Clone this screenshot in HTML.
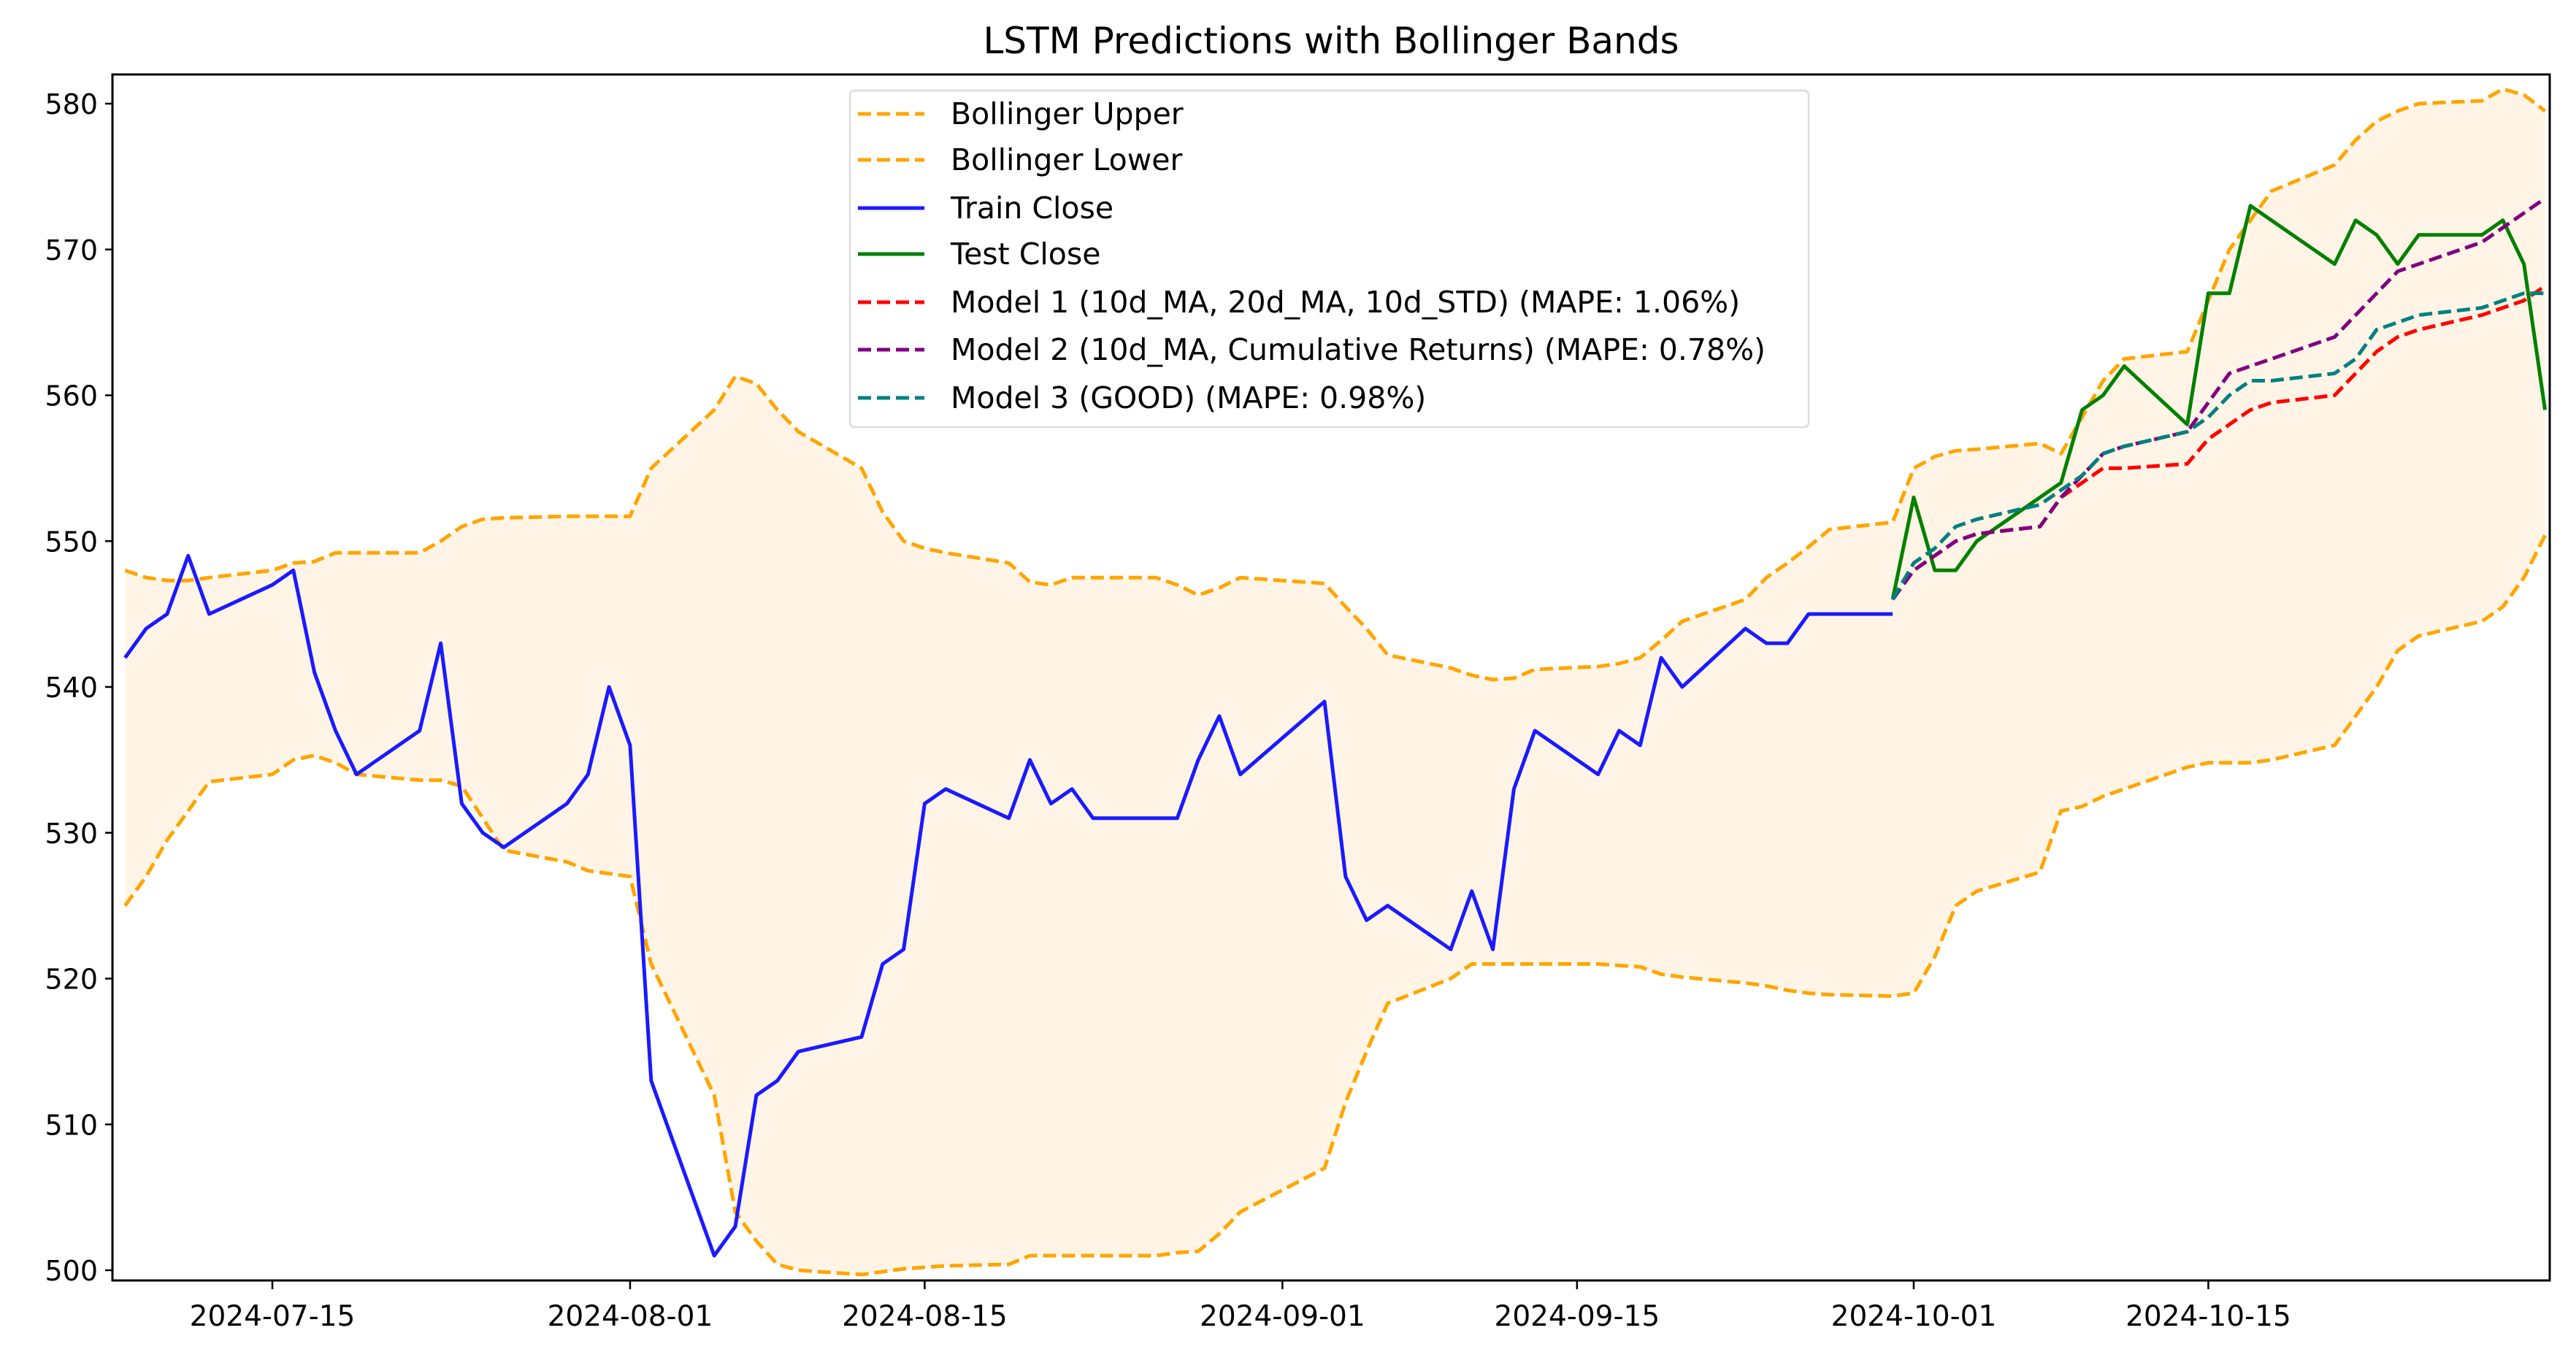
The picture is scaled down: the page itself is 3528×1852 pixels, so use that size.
<!DOCTYPE html>
<html><head><meta charset="utf-8"><style>
html,body{margin:0;padding:0;background:#fff;}
svg{display:block;font-family:"DejaVu Sans","Liberation Sans",sans-serif;}
</style></head><body>
<svg id="chart" width="3528" height="1852" viewBox="0 0 3528 1852" xmlns="http://www.w3.org/2000/svg">
<text x="1823" y="73" font-size="50" text-anchor="middle" fill="#000">LSTM Predictions with Bollinger Bands</text>
<g id="plot"></g>
</svg>
<script>
const trainDates=["07-08","07-09","07-10","07-11","07-12","07-15","07-16","07-17","07-18","07-19","07-22","07-23","07-24","07-25","07-26","07-29","07-30","07-31","08-01","08-02","08-05","08-06","08-07","08-08","08-09","08-12","08-13","08-14","08-15","08-16","08-19","08-20","08-21","08-22","08-23","08-26","08-27","08-28","08-29","08-30","09-03","09-04","09-05","09-06","09-09","09-10","09-11","09-12","09-13","09-16","09-17","09-18","09-19","09-20","09-23","09-24","09-25","09-26","09-27","09-30"];
const testDates=["09-30","10-01","10-02","10-03","10-04","10-07","10-08","10-09","10-10","10-11","10-14","10-15","10-16","10-17","10-18","10-21","10-22","10-23","10-24","10-25","10-28","10-29","10-30","10-31"];
const trainClose=[542,544,545,549,545,547,548,541,537,534,537,543,532,530,529,532,534,540,536,513,501,503,512,513,515,516,521,522,532,533,531,535,532,533,531,531,531,535,538,534,539,527,524,525,522,526,522,533,537,534,537,536,542,540,544,543,543,545,545,545];
const testClose=[546,553,548,548,550,553,554,559,560,562,558,567,567,573,572,569,572,571,569,571,571,572,569,559];
const model1=[546,548,549,550,550.5,551,553,554,555,555,555.3,557,558,559,559.5,560,561.5,563,564,564.5,565.5,566,566.5,567.5];
const model2=[546,548,549,550,550.5,551,553,554.5,556,556.5,557.5,559.5,561.5,562,562.5,564,565.5,567,568.5,569,570.5,571.5,572.5,573.5];
const model3=[546,548.5,549.5,551,551.5,552.5,553.5,554.5,556,556.5,557.5,558.5,560,561,561,561.5,562.5,564.5,565,565.5,566,566.5,567,567];
const bandUpper=[548,547.5,547.3,547.3,547.5,548,548.5,548.6,549.2,549.2,549.2,550,551,551.5,551.6,551.7,551.7,551.7,551.7,555,559,561.3,560.8,559,557.5,555,552,550,549.5,549.2,548.5,547.2,547,547.5,547.5,547.5,547,546.3,546.8,547.5,547.1,545.5,544,542.2,541.3,540.8,540.5,540.6,541.2,541.4,541.6,542,543.2,544.5,546,547.5,548.5,549.6,550.8,551.3,
555,555.8,556.2,556.3,556.7,556,558.5,561,562.5,563,566.5,570,572,574,575.8,577.5,578.8,579.5,580,580.2,581,580.6,579.5];
const bandLower=[525,527,529.5,531.5,533.5,534,535,535.3,534.8,534,533.6,533.6,533.2,531,528.8,528,527.4,527.2,527,521,512,504,502,500.4,500,499.7,499.9,500.1,500.2,500.3,500.4,501,501,501,501,501,501.2,501.3,502.5,504,507,511.5,515,518.3,520,521,521,521,521,521,520.9,520.8,520.3,520.1,519.7,519.5,519.2,519,518.9,518.8,
519,521.5,525,526,527.3,531.5,531.8,532.5,533,534.5,534.8,534.8,534.8,535,536,538,540,542.5,543.5,544.5,545.5,547.5,550.4];
const yTicks=[500,510,520,530,540,550,560,570,580];
const xTicks=["07-15","08-01","08-15","09-01","09-15","10-01","10-15"];

const bandDates=trainDates.concat(testDates.slice(1));
const NS="http://www.w3.org/2000/svg";
const L=154,R=3492,T=102,B=1754;
const mdays=[0,31,29,31,30,31,30,31,31,30,31,30,31];
function dayNum(s){const [m,d]=s.split("-").map(Number);let n=0;for(let i=1;i<m;i++)n+=mdays[i];return n+d;}
const d0=dayNum("07-15");
function X(s){return 373+(dayNum(s)-d0)*28.82;}
function Y(v){return 1740-(v-500)*19.975;}
const plot=document.getElementById('plot');
function el(tag,attrs){const e=document.createElementNS(NS,tag);for(const k in attrs)e.setAttribute(k,attrs[k]);plot.appendChild(e);return e;}
function pts(dates,vals){return vals.map((v,i)=>X(dates[i]).toFixed(1)+","+Y(v).toFixed(1)).join(" ");}

const defs=el('defs',{});
const cp=document.createElementNS(NS,'clipPath');cp.setAttribute('id','clip');
const cr=document.createElementNS(NS,'rect');cr.setAttribute('x',L);cr.setAttribute('y',T);cr.setAttribute('width',R-L);cr.setAttribute('height',B-T);
cp.appendChild(cr);defs.appendChild(cp);

const g=el('g',{'clip-path':'url(#clip)'});
function gel(tag,attrs){const e=el(tag,attrs);g.appendChild(e);return e;}

let fp=bandUpper.map((v,i)=>X(bandDates[i]).toFixed(1)+","+Y(v).toFixed(1));
for(let i=bandLower.length-1;i>=0;i--)fp.push(X(bandDates[i]).toFixed(1)+","+Y(bandLower[i]).toFixed(1));
const fill=gel('polygon',{points:fp.join(" "),fill:'#fff4e5',stroke:'none'});



const series=[
 {name:'bollinger-upper-line',d:bandDates,v:bandUpper,c:'#ffa500',dash:'18,8',w:5},
 {name:'bollinger-lower-line',d:bandDates,v:bandLower,c:'#ffa500',dash:'18,8',w:5},
 {name:'train-close-line',d:trainDates,v:trainClose,c:'#1a1aff',dash:null,w:5},
 {name:'test-close-line',d:testDates,v:testClose,c:'#008000',dash:null,w:5},
 {name:'model-1-line',d:testDates,v:model1,c:'#ff0000',dash:'18,8',w:5},
 {name:'model-2-line',d:testDates,v:model2,c:'#800080',dash:'18,8',w:5},
 {name:'model-3-line',d:testDates,v:model3,c:'#008080',dash:'18,8',w:5}
];
series.forEach(s=>{
  const a={points:pts(s.d,s.v),fill:'none',stroke:s.c,'stroke-width':s.w,'stroke-linejoin':'round'};
  if(s.dash)a['stroke-dasharray']=s.dash;
  const p=gel('polyline',a);
  
  
});

const frame=el('rect',{x:L,y:T,width:R-L,height:B-T,fill:'none',stroke:'#000','stroke-width':3});



yTicks.forEach(v=>{
  const y=Y(v);
  const t=el('line',{x1:L-10,x2:L,y1:y,y2:y,stroke:'#000','stroke-width':2.5});
  
  
  const lb=el('text',{x:L-20,y:y+14,'font-size':38,'text-anchor':'end',fill:'#000'});
  lb.textContent=v;
  
  
});
xTicks.forEach(s=>{
  const x=X(s);
  const t=el('line',{x1:x,x2:x,y1:B,y2:B+12,stroke:'#000','stroke-width':2.5});
  
  
  const lb=el('text',{x:x,y:B+62,'font-size':39,'text-anchor':'middle',fill:'#000'});
  lb.textContent='2024-'+s;
  
  
});

const leg=el('rect',{x:1164,y:124,width:1313,height:461,rx:6,fill:'#fff','fill-opacity':0.85,stroke:'#dcdcdc','stroke-width':2.5});


const legLabels=["Bollinger Upper","Bollinger Lower","Train Close","Test Close","Model 1 (10d_MA, 20d_MA, 10d_STD) (MAPE: 1.06%)","Model 2 (10d_MA, Cumulative Returns) (MAPE: 0.78%)","Model 3 (GOOD) (MAPE: 0.98%)"];
const legY=[156,219,285,348,414,479,545];
series.forEach((s,i)=>{
  const a={x1:1175,x2:1266,y1:legY[i],y2:legY[i],stroke:s.c,'stroke-width':s.w};
  if(s.dash)a['stroke-dasharray']=s.dash;
  const h=el('line',a);
  
  
  const tx=el('text',{x:1302,y:legY[i]+14,'font-size':41,fill:'#000'});
  tx.textContent=legLabels[i];
  
  
});
</script>
</body></html>
